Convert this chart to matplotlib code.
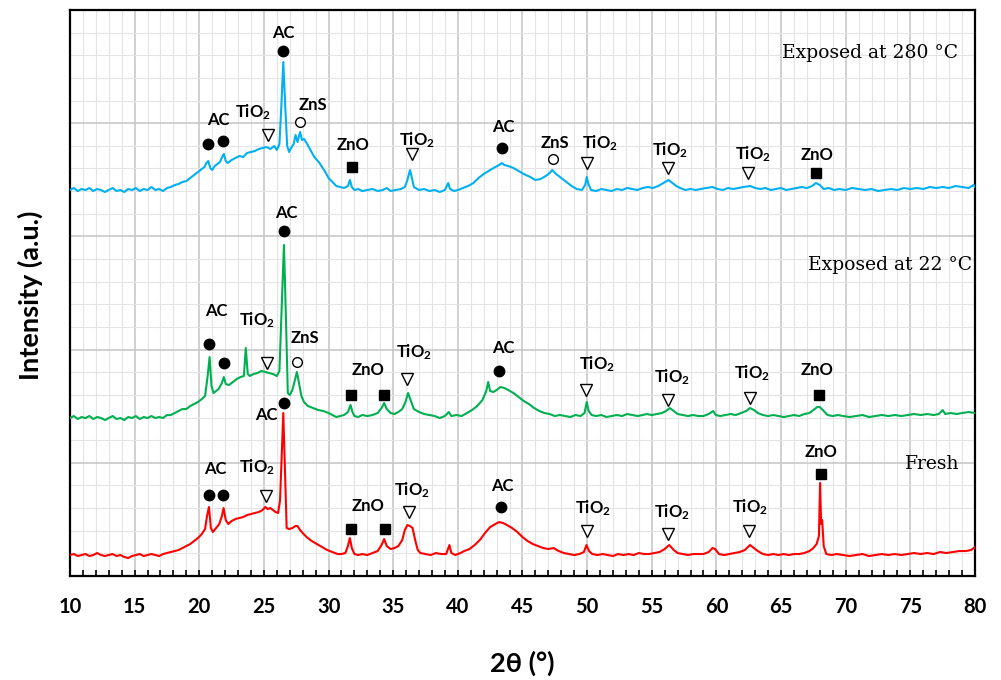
import matplotlib.pyplot as plt
from matplotlib.ticker import MultipleLocator

plt.rcParams['font.family'] = ['Lato', 'DejaVu Sans']
plt.rcParams['mathtext.default'] = 'regular'

# XRD scans, 2theta in degrees, intensity in a.u. (traces already stacked)
tt_280 = [
    10.0, 10.3, 10.6, 10.9, 11.2, 11.5, 11.8, 12.1, 12.4, 12.7,
    13.0, 13.3, 13.6, 13.9, 14.2, 14.5, 14.8, 15.1, 15.4, 15.7,
    16.0, 16.3, 16.6, 16.9, 17.2, 17.5, 17.8, 18.1, 18.4, 18.7,
    19.0, 19.3, 19.6, 19.9, 20.2, 20.4, 20.55, 20.7, 20.85, 21.0,
    21.2, 21.4, 21.6, 21.8, 21.9, 22.05, 22.2, 22.5, 22.8, 23.1,
    23.4, 23.7, 24.0, 24.3, 24.6, 24.9, 25.2, 25.5, 25.8, 26.0,
    26.2, 26.35, 26.5, 26.65, 26.8, 26.95, 27.1, 27.3, 27.45, 27.6,
    27.8, 27.95, 28.1, 28.3, 28.6, 28.9, 29.3, 29.7, 30.0, 30.3,
    30.6, 30.9, 31.2, 31.5, 31.65, 31.8, 32.0, 32.3, 32.6, 33.0,
    33.4, 33.8, 34.2, 34.5, 34.8, 35.2, 35.6, 35.9, 36.1, 36.3,
    36.45, 36.6, 37.0, 37.4, 37.8, 38.2, 38.6, 39.0, 39.25, 39.4,
    39.7, 40.0, 40.4, 40.8, 41.2, 41.6, 42.0, 42.5, 42.9, 43.2,
    43.4, 43.6, 43.9, 44.3, 44.7, 45.1, 45.6, 46.0, 46.4, 46.8,
    47.1, 47.3, 47.6, 48.0, 48.4, 48.8, 49.2, 49.6, 49.85, 49.97,
    50.1, 50.3, 50.7, 51.1, 51.5, 51.9, 52.3, 52.7, 53.1, 53.5,
    53.9, 54.3, 54.7, 55.1, 55.5, 55.9, 56.3, 56.6, 56.9, 57.2,
    57.6, 58.0, 58.4, 58.8, 59.2, 59.7, 60.1, 60.5, 60.9, 61.3,
    61.7, 62.1, 62.6, 63.0, 63.4, 63.8, 64.2, 64.6, 65.0, 65.4,
    65.8, 66.2, 66.6, 67.0, 67.4, 67.7, 68.0, 68.3, 68.7, 69.1,
    69.5, 70.0, 70.5, 71.0, 71.5, 72.0, 72.5, 73.0, 73.5, 74.0,
    74.5, 75.0, 75.5, 76.0, 76.5, 77.0, 77.5, 78.0, 78.5, 79.0,
    79.5, 79.9, 80.0]
int_280 = [
    386, 388, 385, 387, 386, 388, 385, 387, 386, 384,
    386, 388, 385, 386, 384, 387, 386, 388, 385, 387,
    386, 389, 386, 387, 385, 388, 389, 391, 392, 394,
    395, 398, 401, 404, 407, 409, 413, 415, 408, 406,
    410, 412, 414, 420, 422, 415, 413, 416, 418, 420,
    419, 423, 424, 425, 427, 428, 429, 427, 430, 426,
    432, 470, 514, 470, 430, 424, 428, 432, 441, 434,
    444, 436, 437, 433, 426, 419, 413, 405, 398, 394,
    390, 389, 388, 390, 396, 389, 386, 387, 385, 386,
    387, 385, 386, 388, 385, 386, 387, 389, 396, 406,
    398, 389, 386, 387, 385, 386, 384, 386, 393, 387,
    385, 386, 388, 390, 393, 398, 402, 406, 409, 411,
    413, 411, 410, 408, 405, 402, 399, 396, 397, 400,
    403, 406, 402, 398, 394, 390, 387, 386, 391, 399,
    392, 386, 385, 387, 386, 385, 387, 386, 388, 387,
    386, 388, 389, 388, 390, 393, 396, 393, 390, 388,
    386, 387, 386, 387, 388, 389, 387, 386, 388, 387,
    388, 389, 390, 388, 387, 388, 386, 387, 388, 386,
    387, 388, 389, 388, 390, 393, 391, 387, 388, 386,
    387, 386, 388, 387, 386, 387, 385, 386, 387, 386,
    388, 387, 388, 387, 389, 388, 389, 388, 390, 389,
    388, 391, 389]

tt_22 = [
    10.0, 10.3, 10.6, 10.9, 11.2, 11.5, 11.8, 12.1, 12.4, 12.7,
    13.0, 13.3, 13.6, 13.9, 14.2, 14.5, 14.8, 15.1, 15.4, 15.7,
    16.0, 16.3, 16.6, 16.9, 17.2, 17.5, 17.8, 18.1, 18.4, 18.7,
    19.0, 19.3, 19.6, 19.9, 20.2, 20.45, 20.65, 20.8, 20.95, 21.1,
    21.3, 21.5, 21.75, 21.9, 22.05, 22.3, 22.6, 22.9, 23.2, 23.45,
    23.6, 23.75, 23.9, 24.2, 24.5, 24.8, 25.1, 25.4, 25.7, 26.0,
    26.2, 26.35, 26.55, 26.7, 26.85, 27.0, 27.2, 27.4, 27.55, 27.7,
    27.9, 28.1, 28.4, 28.8, 29.2, 29.6, 30.0, 30.3, 30.6, 30.9,
    31.2, 31.5, 31.7, 31.85, 32.0, 32.3, 32.6, 33.0, 33.4, 33.8,
    34.1, 34.3, 34.5, 34.8, 35.1, 35.4, 35.7, 35.95, 36.15, 36.35,
    36.6, 37.0, 37.4, 37.8, 38.2, 38.6, 39.0, 39.3, 39.5, 39.9,
    40.3, 40.7, 41.1, 41.5, 41.9, 42.2, 42.35, 42.5, 42.75, 43.0,
    43.3, 43.6, 43.9, 44.3, 44.7, 45.1, 45.5, 45.9, 46.3, 46.7,
    47.1, 47.5, 47.9, 48.3, 48.7, 49.1, 49.5, 49.8, 49.97, 50.12,
    50.35, 50.7, 51.1, 51.5, 51.9, 52.3, 52.7, 53.1, 53.5, 53.9,
    54.3, 54.6, 55.0, 55.4, 55.8, 56.1, 56.4, 56.7, 57.0, 57.4,
    57.8, 58.2, 58.6, 59.0, 59.4, 59.75, 59.95, 60.3, 60.7, 61.1,
    61.5, 61.9, 62.3, 62.6, 62.9, 63.2, 63.6, 64.0, 64.4, 64.8,
    65.2, 65.6, 66.0, 66.4, 66.8, 67.2, 67.5, 67.8, 68.0, 68.3,
    68.6, 69.0, 69.4, 69.8, 70.3, 70.8, 71.3, 71.8, 72.3, 72.8,
    73.3, 73.8, 74.3, 74.8, 75.3, 75.8, 76.3, 76.8, 77.2, 77.5,
    77.7, 78.1, 78.6, 79.0, 79.5, 80.0]
int_22 = [
    158, 160, 157, 159, 158, 160, 157, 159, 158, 156,
    158, 160, 157, 158, 156, 159, 158, 160, 157, 159,
    158, 160, 158, 159, 158, 161, 161, 163, 165, 167,
    167, 170, 172, 174, 177, 180, 200, 219, 190, 183,
    185, 187, 193, 199, 192, 191, 194, 197, 199, 200,
    228, 202, 200, 202, 203, 205, 204, 203, 202, 200,
    205, 260, 331, 260, 183, 181, 186, 196, 204, 194,
    180, 174, 170, 168, 166, 165, 163, 161, 159, 160,
    161, 164, 171, 164, 160, 159, 161, 160, 161, 163,
    168, 173, 167, 163, 162, 164, 167, 174, 183, 176,
    167, 164, 162, 161, 160, 158, 160, 164, 160, 161,
    160, 163, 166, 170, 176, 185, 194, 185, 184, 186,
    189, 188, 186, 183, 179, 175, 172, 168, 165, 163,
    162, 160, 161, 160, 159, 161, 160, 163, 174, 165,
    161, 160, 161, 159, 160, 161, 160, 162, 161, 160,
    161, 162, 161, 162, 163, 165, 168, 165, 162, 161,
    160, 161, 160, 160, 162, 165, 161, 160, 161, 162,
    161, 163, 165, 168, 166, 163, 161, 160, 161, 160,
    159, 160, 161, 160, 162, 163, 166, 169, 169, 165,
    161, 160, 161, 160, 159, 160, 161, 159, 160, 161,
    160, 161, 160, 161, 162, 161, 162, 161, 162, 166,
    162, 163, 162, 163, 164, 163]

tt_fresh = [
    10.0, 10.3, 10.6, 10.9, 11.2, 11.5, 11.8, 12.1, 12.4, 12.7,
    13.0, 13.3, 13.6, 13.9, 14.2, 14.5, 14.8, 15.1, 15.4, 15.7,
    16.0, 16.3, 16.6, 16.9, 17.2, 17.5, 17.8, 18.1, 18.4, 18.7,
    19.0, 19.3, 19.6, 19.9, 20.2, 20.45, 20.6, 20.75, 20.9, 21.05,
    21.3, 21.55, 21.75, 21.88, 22.05, 22.25, 22.5, 22.8, 23.1, 23.4,
    23.7, 24.0, 24.3, 24.6, 24.9, 25.1, 25.3, 25.5, 25.7, 25.9,
    26.1, 26.25, 26.38, 26.5, 26.62, 26.76, 26.95, 27.2, 27.45, 27.6,
    27.8, 28.0, 28.3, 28.7, 29.1, 29.5, 29.9, 30.3, 30.7, 31.0,
    31.3, 31.5, 31.65, 31.8, 32.0, 32.3, 32.6, 33.0, 33.4, 33.8,
    34.1, 34.3, 34.5, 34.8, 35.1, 35.4, 35.7, 35.9, 36.1, 36.3,
    36.5, 36.7, 36.9, 37.1, 37.5, 37.9, 38.3, 38.7, 39.1, 39.35,
    39.5, 39.8, 40.2, 40.5, 40.9, 41.3, 41.7, 42.1, 42.5, 42.9,
    43.2, 43.5, 43.8, 44.2, 44.6, 45.0, 45.4, 45.8, 46.2, 46.6,
    47.0, 47.4, 47.8, 48.2, 48.6, 49.0, 49.4, 49.75, 49.95, 50.15,
    50.4, 50.8, 51.2, 51.6, 52.0, 52.4, 52.8, 53.2, 53.6, 54.0,
    54.4, 54.8, 55.2, 55.6, 56.0, 56.35, 56.7, 57.0, 57.4, 57.8,
    58.2, 58.6, 59.0, 59.4, 59.7, 59.9, 60.2, 60.6, 61.0, 61.4,
    61.8, 62.2, 62.6, 62.9, 63.2, 63.6, 64.0, 64.4, 64.8, 65.2,
    65.6, 66.0, 66.4, 66.8, 67.2, 67.5, 67.75, 67.93, 68.02, 68.1,
    68.18, 68.3, 68.5, 68.9, 69.3, 69.8, 70.3, 70.8, 71.3, 71.8,
    72.3, 72.8, 73.3, 73.8, 74.3, 74.8, 75.3, 75.8, 76.3, 76.8,
    77.3, 77.8, 78.3, 78.8, 79.3, 79.7, 80.0]
int_fresh = [
    21, 22, 20, 21, 22, 20, 21, 23, 21, 20,
    21, 22, 20, 21, 19, 18, 20, 21, 22, 20,
    21, 22, 21, 20, 22, 23, 24, 25, 26, 28,
    30, 32, 35, 38, 42, 47, 60, 69, 48, 44,
    48, 52, 60, 68, 56, 52, 55, 57, 58, 59,
    61, 62, 63, 64, 66, 69, 67, 68, 66, 64,
    63, 76, 120, 163, 110, 48, 47, 48, 50, 50,
    46, 43, 39, 35, 32, 29, 26, 24, 22, 22,
    23, 30, 38, 28, 22, 21, 22, 21, 23, 25,
    31, 37, 30, 27, 28, 30, 36, 46, 51, 50,
    48, 36, 26, 23, 22, 21, 23, 22, 22, 31,
    23, 21, 23, 25, 27, 31, 36, 43, 49, 52,
    54, 53, 51, 48, 44, 39, 35, 32, 30, 28,
    27, 28, 25, 23, 22, 21, 22, 24, 31, 25,
    22, 21, 22, 21, 20, 22, 21, 22, 21, 23,
    22, 22, 23, 24, 27, 31, 26, 23, 22, 21,
    22, 22, 22, 24, 28, 27, 22, 21, 22, 23,
    24, 26, 31, 28, 25, 22, 21, 22, 21, 22,
    21, 22, 22, 23, 25, 28, 32, 40, 93, 52,
    56, 30, 22, 21, 22, 21, 20, 21, 22, 20,
    21, 22, 21, 22, 21, 22, 23, 22, 23, 22,
    24, 23, 24, 25, 25, 26, 29]

# phase markers: (phase, 2theta, height)
marks_280 = [('AC', 20.65, 432), ('AC', 21.81, 435), ('TiO2', 25.34, 441),
             ('AC', 26.45, 525), ('ZnS', 27.79, 454), ('ZnO', 31.79, 409),
             ('TiO2', 36.43, 422), ('AC', 43.39, 428), ('ZnS', 47.38, 417),
             ('TiO2', 49.96, 413), ('TiO2', 56.27, 408), ('TiO2', 62.46, 403),
             ('ZnO', 67.70, 403)]
marks_22 = [('AC', 20.75, 232), ('AC', 21.93, 213), ('TiO2', 25.26, 213),
            ('AC', 26.55, 345), ('ZnS', 27.58, 214), ('ZnO', 31.71, 181),
            ('ZnO', 34.28, 181), ('TiO2', 36.06, 197), ('AC', 43.18, 205),
            ('TiO2', 49.91, 186), ('TiO2', 56.25, 176), ('TiO2', 62.59, 178),
            ('ZnO', 67.92, 181)]
marks_fresh = [('AC', 20.75, 81), ('AC', 21.86, 81), ('TiO2', 25.16, 80),
               ('AC', 26.55, 173), ('ZnO', 31.71, 47), ('ZnO', 34.36, 47),
               ('TiO2', 36.24, 64), ('AC', 43.31, 69), ('TiO2', 49.96, 45),
               ('TiO2', 56.27, 42), ('TiO2', 62.54, 45), ('ZnO', 68.06, 102)]

# phase labels: (phase, 2theta, height)
labels_280 = [('AC', 21.45, 456), ('TiO2', 24.18, 464), ('AC', 26.47, 543),
              ('ZnS', 28.77, 471), ('ZnO', 31.91, 431), ('TiO2', 36.81, 436),
              ('AC', 43.51, 449), ('ZnS', 47.51, 433), ('TiO2', 50.99, 433),
              ('TiO2', 56.40, 426), ('TiO2', 62.85, 422), ('ZnO', 67.75, 421)]
labels_22 = [('AC', 21.35, 265), ('TiO2', 24.44, 256), ('AC', 26.76, 363),
             ('ZnS', 28.17, 238), ('ZnO', 33.07, 206), ('TiO2', 36.60, 224),
             ('AC', 43.49, 228), ('TiO2', 50.76, 212), ('TiO2', 56.56, 199),
             ('TiO2', 62.75, 203), ('ZnO', 67.77, 206)]
labels_fresh = [('AC', 21.21, 107), ('TiO2', 24.44, 109), ('AC', 25.21, 161),
                ('ZnO', 33.07, 70), ('TiO2', 36.43, 86), ('AC', 43.46, 90),
                ('TiO2', 50.42, 68), ('TiO2', 56.53, 64), ('TiO2', 62.59, 69),
                ('ZnO', 68.06, 124)]

series_names = ['Exposed at 280 °C', 'Exposed at 22 °C', 'Fresh']
name_pos = [(78.68, 523), (79.76, 311), (78.83, 112)]

colors = ['#00B0F0', '#00B050', '#FF0000']

marker_style = {
    'AC': dict(marker='o', ms=7.5, mfc='black', mec='black'),
    'ZnO': dict(marker='s', ms=6.5, mfc='black', mec='black'),
    'TiO2': dict(marker='v', ms=8.5, mfc='white', mec='black', mew=1.0),
    'ZnS': dict(marker='o', ms=7.0, mfc='white', mec='black', mew=1.0),
}
label_text = {'AC': 'AC', 'ZnO': 'ZnO', 'ZnS': 'ZnS', 'TiO2': 'TiO$_2$'}

fig = plt.figure(figsize=(10.01, 6.8), dpi=100)
ax = fig.add_axes([0.0699, 0.1529, 0.9041, 0.8324])

scans = [(tt_280, int_280), (tt_22, int_22), (tt_fresh, int_fresh)]
for (tt, inten), c in zip(scans, colors):
    ax.plot(tt, inten, color=c, lw=1.5, zorder=3)

for marks in (marks_280, marks_22, marks_fresh):
    for phase, x, y in marks:
        ax.plot([x], [y], ls='none', zorder=4, **marker_style[phase])

for labels in (labels_280, labels_22, labels_fresh):
    for phase, x, y in labels:
        ax.text(x, y, label_text[phase], ha='center', va='center',
                fontsize=12, fontweight='bold', zorder=5)

for name, (x, y) in zip(series_names, name_pos):
    ax.text(x, y, name, ha='right', va='center', fontsize=13.5,
            family='DejaVu Serif', zorder=5)

ax.set_xlim(10, 80)
ax.set_ylim(0, 566)
ax.xaxis.set_major_locator(MultipleLocator(5))
ax.xaxis.set_minor_locator(MultipleLocator(1))
ax.yaxis.set_major_locator(MultipleLocator(113.2))
ax.yaxis.set_minor_locator(MultipleLocator(22.64))
ax.grid(which='major', color='#c4c4c4', lw=1.1)
ax.grid(which='minor', color='#e4e4e4', lw=0.8)
ax.set_axisbelow(True)

ax.tick_params(axis='x', which='both', direction='in', length=4, width=1.2,
               pad=15, labelsize=14.5, color='black')
ax.tick_params(axis='y', which='both', left=False, labelleft=False)
plt.setp(ax.get_xticklabels(), fontweight='bold')
for sp in ax.spines.values():
    sp.set_linewidth(1.6)
    sp.set_color('black')

fig.text(0.522, 1 - 663 / 680, '2θ (°)', ha='center', va='center',
         fontsize=19.5, fontweight='bold')
fig.text(0.030, 1 - 295 / 680, 'Intensity (a.u.)', ha='center', va='center',
         rotation=90, fontsize=19.5, fontweight='bold')

fig.savefig('out.png', dpi=100)
